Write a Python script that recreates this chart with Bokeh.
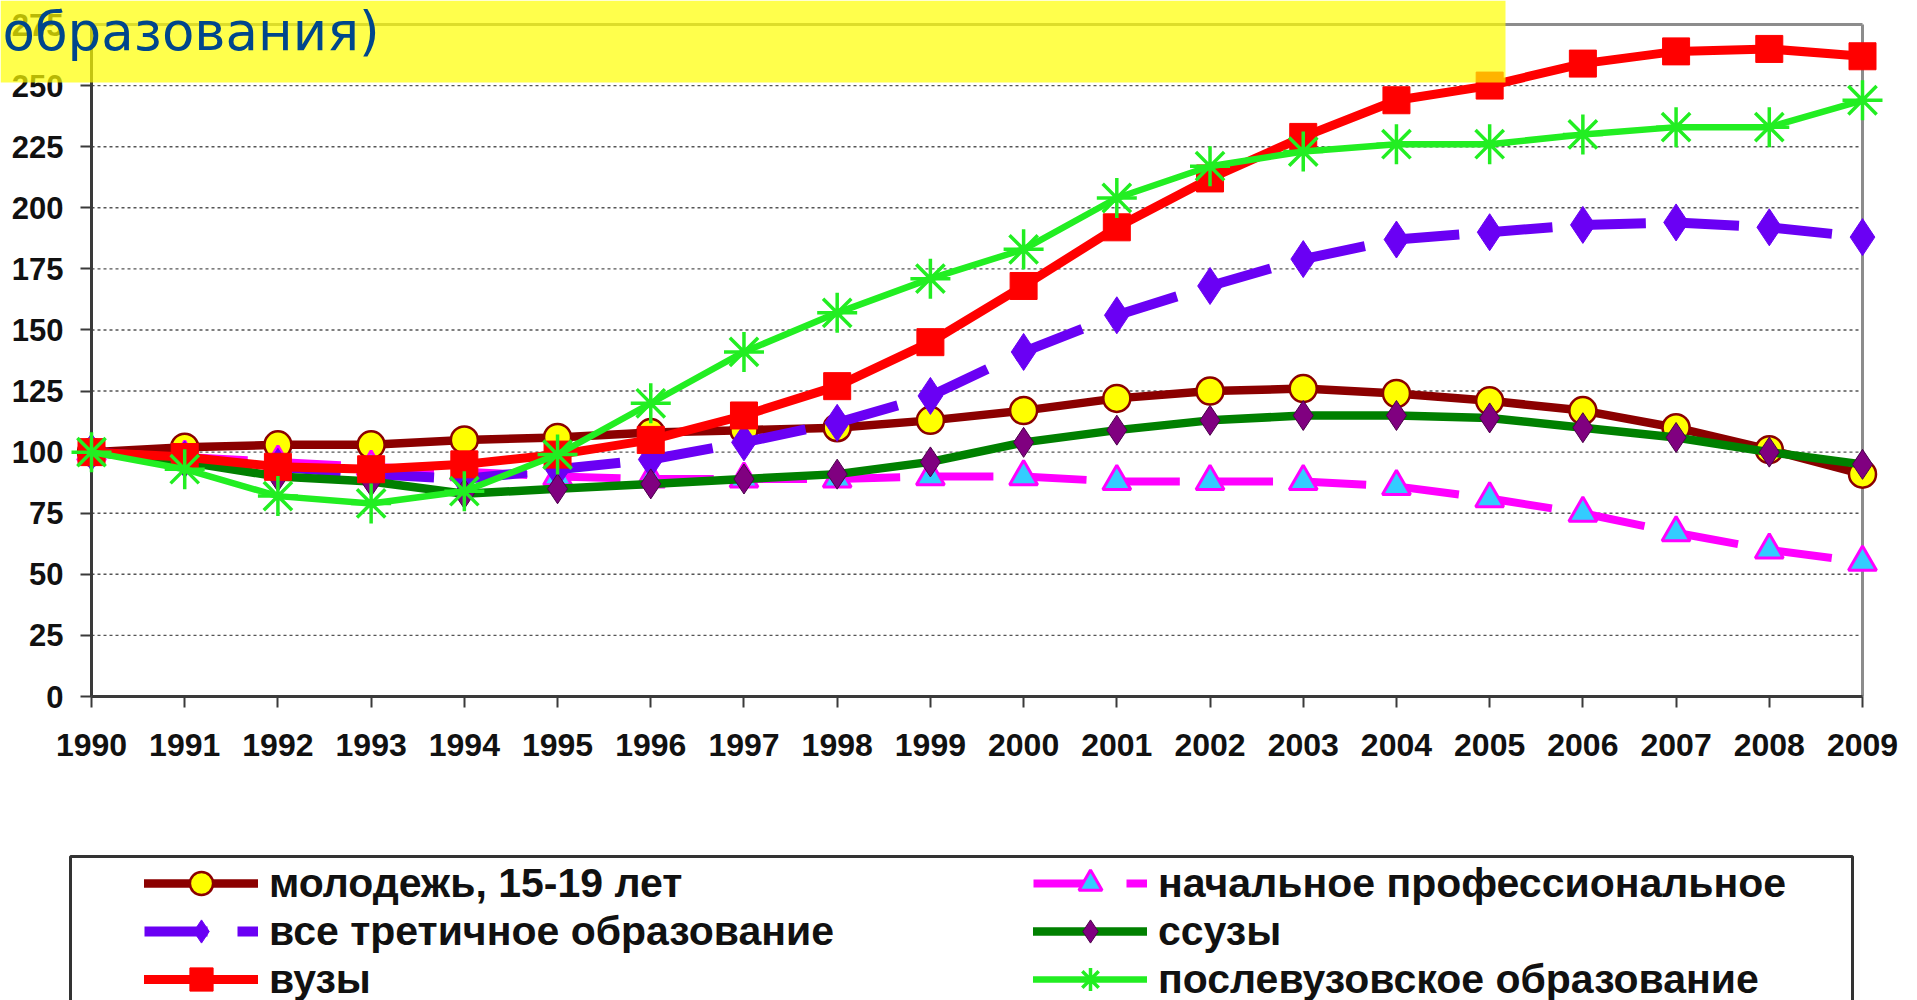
from bokeh.plotting import figure
from bokeh.models import Range1d, FixedTicker, BoxAnnotation, Label, Legend, LegendItem
from bokeh.core.properties import value
from bokeh.embed import file_html
from bokeh.resources import INLINE

# ---------------- data ----------------
years = list(range(1990, 2010))
youth_15_19 = [100, 102, 103, 103, 105, 106, 108, 109, 110, 113, 117, 122, 125, 126, 124, 121, 117, 110, 101, 91]
initial_prof = [100, 98, 96, 94, 92, 90, 89, 89, 89, 90, 90, 88, 88, 88, 86, 81, 75, 67, 60, 55]
tertiary_all = [100, 97, 94, 91, 89, 93, 97, 104, 112, 123, 141, 156, 168, 179, 187, 190, 193, 194, 192, 188]
ssuz = [100, 96, 90, 88, 83, 85, 87, 89, 91, 96, 104, 109, 113, 115, 115, 114, 110, 106, 100, 95]
vuz = [100, 98, 94, 93, 95, 99, 105, 115, 127, 145, 168, 192, 212, 229, 244, 250, 259, 264, 265, 262]
postgrad = [100, 93, 82, 79, 84, 99, 120, 141, 157, 171, 183, 204, 217, 223, 226, 226, 230, 233, 233, 244]
y_ticks = [0, 25, 50, 75, 100, 125, 150, 175, 200, 225, 250, 275]
grid_ticks = [25, 50, 75, 100, 125, 150, 175, 200, 225, 250]
title_text = "образования)"
lbl_youth = "молодежь, 15-19 лет"
lbl_tert = "все третичное образование"
lbl_vuz = "вузы"
lbl_init = "начальное профессиональное"
lbl_ssuz = "ссузы"
lbl_post = "послевузовское образование"

# ---------------- layout (canvas pixels -> data) ----------------
W, H = 1917, 1000
KX = (1862 - 91) / 19.0
X0 = 1990 - 91 / KX
X1 = X0 + W / KX
KY = (696 - 24) / 275.0
Y1 = 275 + 24 / KY
Y0 = Y1 - H / KY


def sx(px):
    return X0 + px / KX


def sy(py):
    return Y1 - py / KY


p = figure(width=W, height=H, output_backend="svg", toolbar_location=None, title=None,
           x_range=Range1d(X0, X1), y_range=Range1d(Y0, Y1),
           min_border=0, min_border_left=0, min_border_right=0,
           min_border_top=0, min_border_bottom=0,
           outline_line_color=None, background_fill_color="white",
           border_fill_color="white")
p.xgrid.visible = False
p.ygrid.visible = False

FONT = "Liberation Sans"
xa = p.xaxis[0]
ya = p.yaxis[0]
xa.fixed_location = 0
ya.fixed_location = 1990
xa.bounds = (1990, 2009)
ya.bounds = (0, 275)
xa.ticker = FixedTicker(ticks=years)
ya.ticker = FixedTicker(ticks=y_ticks)
for ax, standoff, fs in ((xa, 26, "32px"), (ya, 17, "31px")):
    ax.axis_line_color = "#3a3a3a"
    ax.axis_line_width = 3
    ax.major_tick_line_color = "#3a3a3a"
    ax.major_tick_line_width = 2
    ax.major_tick_out = 11
    ax.major_tick_in = 0
    ax.minor_tick_line_color = None
    ax.major_label_standoff = standoff
    ax.major_label_text_font = FONT
    ax.major_label_text_font_style = "bold"
    ax.major_label_text_font_size = fs
    ax.major_label_text_color = "#111111"
ya.level = "underlay"

# grid lines and frame (top / right)
p.multi_line(xs=[[1990, 2009] for _ in grid_ticks], ys=[[t, t] for t in grid_ticks],
             line_color="#555555", line_width=1.4, line_dash="3 3", level="underlay")
p.multi_line(xs=[[1990, 2009], [2009, 2009]], ys=[[275, 275], [0, 275]],
             line_color="#8c8c8c", line_width=3, level="underlay")


def draw(vals, color, lw, dash, marker, msize, mfill, mline, mlw):
    if dash:
        r_line = p.segment(x0=years[:-1], y0=vals[:-1], x1=years[1:], y1=vals[1:],
                           line_color=color, line_width=lw, line_dash=dash, line_cap="butt")
    else:
        r_line = p.line(years, vals, line_color=color, line_width=lw,
                        line_join="round", line_cap="round")
    r_mk = p.scatter(years, vals, marker=marker, size=msize, fill_color=mfill,
                     line_color=mline, line_width=mlw)
    return [r_line, r_mk]


r_youth = draw(youth_15_19, "#8B0000", 8.5, None, "circle", 27, "#FFFF00", "#8B0000", 2.5)
r_init = draw(initial_prof, "#FF00FF", 8, "63 30", "triangle", 28, "#33CCFF", "#FF00FF", 3)
r_tert = draw(tertiary_all, "#6A00F4", 10, "63 30", "diamond", 37, "#6A00F4", "#6A00F4", 1)
r_ssuz = draw(ssuz, "#008000", 8.5, None, "diamond", 30, "#800080", "#4a004a", 1)
r_vuz = draw(vuz, "#FF0000", 9, None, "square", 27, "#FF0000", "#FF0000", 1)
r_post = draw(postgrad, "#22EE22", 6.5, None, "asterisk", 40, None, "#22EE22", 3.5)

# title banner (semi-transparent yellow)
p.add_layout(BoxAnnotation(left=sx(0), right=sx(1505), top=sy(0), bottom=sy(82),
                           fill_color="#FFFF00", fill_alpha=0.7, line_color=None))
p.add_layout(Label(x=sx(2), y=sy(31), text=title_text, text_font="DejaVu Sans",
                   text_font_size="53px", text_color="#00468C",
                   text_align="left", text_baseline="alphabetic"))

# legend box
p.add_layout(BoxAnnotation(left=sx(70), right=sx(1852), top=sy(856), bottom=sy(1015),
                           fill_color="white", fill_alpha=1.0,
                           line_color="#333333", line_alpha=1.0, line_width=3))

GH = 58
leg_style = dict(orientation="vertical", glyph_width=114, glyph_height=GH, label_height=48,
                 label_standoff=11, spacing=0, padding=0, margin=0,
                 border_line_color=None, background_fill_alpha=0,
                 label_text_font=FONT, label_text_font_style="bold",
                 label_text_font_size="41px", label_text_color="#111111")
row_centers = [883, 931, 979]
legend_cols = [
    (144, [(lbl_youth, r_youth), (lbl_tert, r_tert), (lbl_vuz, r_vuz)]),
    (1033, [(lbl_init, r_init), (lbl_ssuz, r_ssuz), (lbl_post, r_post)]),
]
for col_x, entries in legend_cols:
    for (lbl, rends), cy in zip(entries, row_centers):
        leg = Legend(items=[LegendItem(label=value(lbl), renderers=rends)],
                     location=(col_x, H - (cy + GH // 2)), **leg_style)
        p.add_layout(leg)

open("out.html", "w").write(file_html(p, INLINE))
